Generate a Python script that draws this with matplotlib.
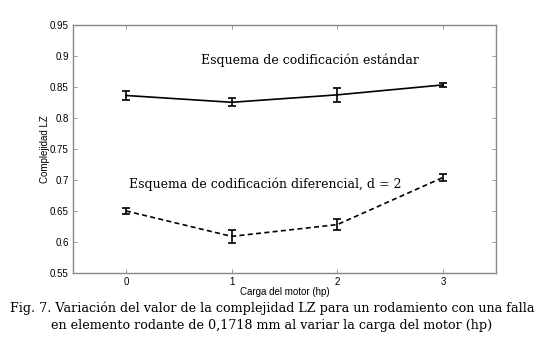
import matplotlib
matplotlib.use("Agg")
import matplotlib.pyplot as plt

carga = [0, 1, 2, 3]
estandar = [0.836, 0.825, 0.837, 0.853]
estandar_err = [0.007, 0.0065, 0.011, 0.003]
diferencial = [0.650, 0.609, 0.628, 0.704]
diferencial_err = [0.005, 0.011, 0.009, 0.006]
yticks = [0.55, 0.6, 0.65, 0.7, 0.75, 0.8, 0.85, 0.9, 0.95]
ytick_labels = ["0.55", "0.6", "0.65", "0.7", "0.75", "0.8", "0.85", "0.9", "0.95"]

fig = plt.figure(figsize=(5.5, 3.43), dpi=100)
W, H = 550, 343
ax = fig.add_axes([73 / W, 1 - 273 / H, (496 - 73) / W, (273 - 24.7) / H])

ax.errorbar(carga, estandar, yerr=estandar_err, color="black", lw=1.2,
            capsize=3, elinewidth=1.2, capthick=1.2)
ax.errorbar(carga, diferencial, yerr=diferencial_err, color="black", lw=1.2,
            ls="--", dashes=(3, 2), capsize=3, elinewidth=1.2, capthick=1.2)

ax.set_xlim(-0.5, 3.5)
ax.set_ylim(0.55, 0.95)
ax.set_xticks(carga)
ax.set_xticklabels([str(c) for c in carga])
ax.set_yticks(yticks)
ax.set_yticklabels(ytick_labels)
ax.tick_params(direction="in", top=True, right=True, length=3, width=0.6,
               labelsize=7, color="#888888", pad=3)
for lab in ax.get_xticklabels() + ax.get_yticklabels():
    lab.set_family("Liberation Sans")
for s in ax.spines.values():
    s.set_color("#888888")
    s.set_linewidth(1.0)

ax.set_xlabel("Carga del motor (hp)", fontsize=7, family="Liberation Sans", labelpad=0)
ax.set_ylabel("Complejidad LZ", fontsize=7, family="Liberation Sans", labelpad=0)

ax.text(1.745, 0.893, "Esquema de codificación estándar", fontsize=9.0,
        family="DejaVu Serif", ha="center", va="center")
ax.text(1.32, 0.693, "Esquema de codificación diferencial, d = 2", fontsize=9.0,
        family="DejaVu Serif", ha="center", va="center")

fig.text(272 / W, 1 - 308 / H,
         "Fig. 7. Variación del valor de la complejidad LZ para un rodamiento con una falla",
         fontsize=9.2, family="DejaVu Serif", ha="center", va="center")
fig.text(272 / W, 1 - 326 / H,
         "en elemento rodante de 0,1718 mm al variar la carga del motor (hp)",
         fontsize=9.2, family="DejaVu Serif", ha="center", va="center")

fig.savefig("out.png", dpi=100)
